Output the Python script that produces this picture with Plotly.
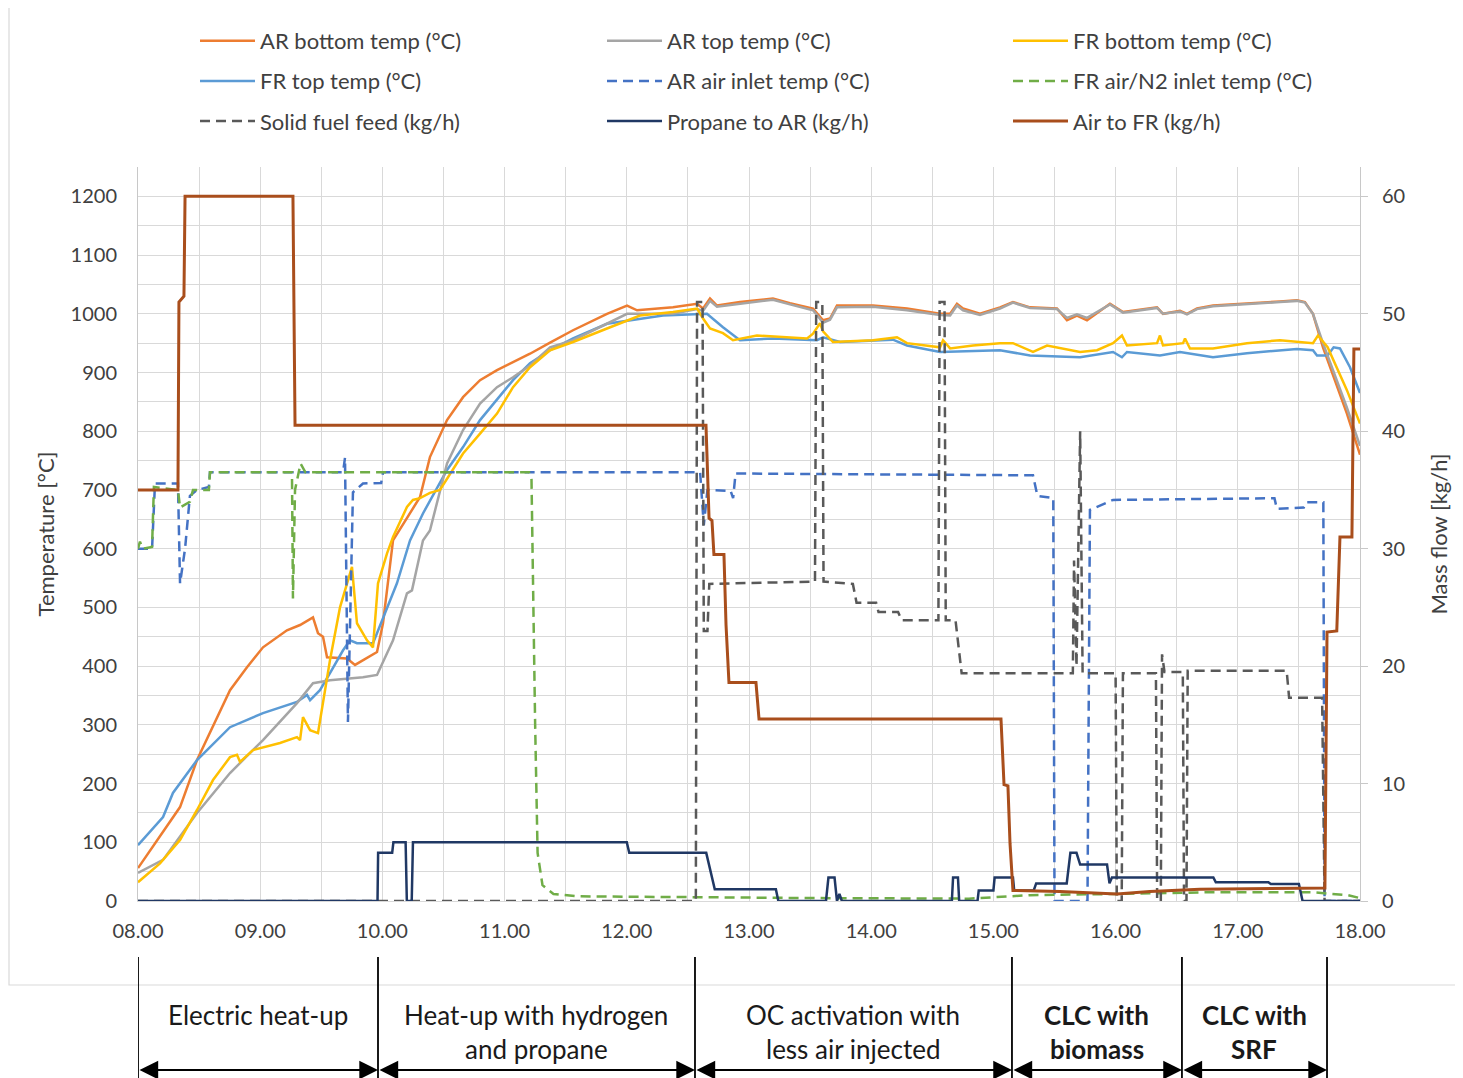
import plotly.graph_objects as go

# ------------------------- data -------------------------
hour_ticks = [8, 9, 10, 11, 12, 13, 14, 15, 16, 17, 18]
hour_labels = ["08.00", "09.00", "10.00", "11.00", "12.00", "13.00",
               "14.00", "15.00", "16.00", "17.00", "18.00"]
temp_ticks = [0, 100, 200, 300, 400, 500, 600, 700, 800, 900, 1000, 1100, 1200]
flow_ticks = [0, 10, 20, 30, 40, 50, 60]

# AR bottom temp (°C)
ar_bottom_t = [8.000, 8.344, 8.483, 8.646, 8.753, 8.892, 9.023, 9.219, 9.326, 9.432, 9.473, 9.514,
               9.547, 9.710, 9.776, 9.956, 10.005, 10.087, 10.308, 10.389, 10.529, 10.660, 10.799,
               10.938, 11.069, 11.208, 11.372, 11.560, 11.838, 12.002, 12.084, 12.378, 12.575,
               12.624, 12.681, 12.738, 12.926, 13.196, 13.335, 13.524, 13.606, 13.663, 13.720,
               14.015, 14.293, 14.563, 14.646, 14.702, 14.751, 14.890, 15.054, 15.160, 15.300,
               15.520, 15.602, 15.684, 15.766, 15.954, 16.061, 16.339, 16.388, 16.527, 16.584,
               16.666, 16.797, 17.075, 17.345, 17.484, 17.549, 17.615, 17.697, 17.893, 18.000]
ar_bottom_v = [56, 160, 240, 313, 359, 398, 432, 461, 470, 483, 456, 450,
               415, 413, 402, 424, 473, 614, 688, 756, 819, 858, 887,
               904, 918, 932, 951, 972, 1000, 1014, 1006, 1011, 1017,
               1009, 1026, 1014, 1020, 1026, 1018, 1009, 989, 992, 1014,
               1014, 1009, 1000, 1000, 1017, 1009, 1000, 1011, 1020, 1011,
               1009, 989, 997, 989, 1017, 1003, 1011, 1000, 1005, 1000,
               1009, 1014, 1017, 1021, 1023, 1020, 1000, 943, 830, 760]

# AR top temp (°C)
ar_top_t = [8.000, 8.205, 8.483, 8.753, 9.023, 9.301, 9.432, 9.571, 9.841, 9.956, 10.087, 10.201,
            10.242, 10.332, 10.389, 10.529, 10.660, 10.799, 10.938, 11.069, 11.208, 11.372, 11.560,
            11.838, 12.002, 12.378, 12.575, 12.624, 12.681, 12.738, 12.926, 13.196, 13.335, 13.524,
            13.606, 13.663, 13.720, 14.015, 14.293, 14.563, 14.646, 14.702, 14.751, 14.890, 15.054,
            15.160, 15.300, 15.520, 15.602, 15.684, 15.766, 15.954, 16.061, 16.339, 16.388, 16.527,
            16.584, 16.666, 16.797, 17.075, 17.345, 17.484, 17.549, 17.615, 17.697, 17.893, 18.000]
ar_top_v = [48, 70, 150, 218, 274, 337, 371, 376, 381, 385, 444, 524,
            529, 614, 631, 745, 802, 847, 875, 892, 912, 943, 955,
            983, 1000, 1000, 1008, 1005, 1022, 1012, 1017, 1024, 1016, 1006,
            985, 990, 1011, 1012, 1006, 998, 997, 1014, 1006, 998, 1009,
            1019, 1010, 1008, 993, 999, 993, 1016, 1002, 1010, 1000, 1004,
            999, 1008, 1013, 1016, 1020, 1022, 1019, 1000, 950, 840, 775]

# FR bottom temp (°C)
fr_bottom_t = [8.000, 8.180, 8.344, 8.483, 8.614, 8.753, 8.810, 8.835, 8.941, 9.162, 9.301, 9.326,
               9.350, 9.408, 9.473, 9.514, 9.571, 9.653, 9.751, 9.792, 9.874, 9.923, 9.964, 10.038,
               10.087, 10.201, 10.250, 10.308, 10.389, 10.471, 10.660, 10.799, 10.938, 11.069,
               11.208, 11.372, 11.560, 11.838, 12.108, 12.378, 12.575, 12.624, 12.681, 12.787,
               12.869, 13.065, 13.475, 13.524, 13.581, 13.606, 13.687, 14.015, 14.211, 14.293,
               14.563, 14.588, 14.646, 14.833, 15.054, 15.160, 15.324, 15.439, 15.709, 15.848,
               15.979, 16.052, 16.093, 16.339, 16.363, 16.388, 16.552, 16.568, 16.609, 16.797,
               17.075, 17.345, 17.533, 17.615, 17.656, 17.735, 17.893, 18.000]
fr_bottom_v = [32, 64, 104, 155, 206, 245, 249, 237, 257, 269, 279, 274,
               313, 291, 286, 337, 410, 500, 569, 473, 444, 432, 541, 592,
               620, 671, 683, 686, 695, 700, 762, 796, 830, 875,
               909, 938, 952, 975, 997, 1003, 1009, 992, 975, 967,
               955, 963, 958, 966, 984, 970, 952, 955, 960, 950,
               943, 955, 941, 946, 950, 950, 935, 946, 935, 938,
               950, 963, 946, 950, 963, 946, 950, 958, 941, 941,
               950, 955, 952, 950, 963, 943, 870, 813]

# FR top temp (°C)
fr_top_t = [8.000, 8.205, 8.286, 8.483, 8.753, 9.023, 9.301, 9.383, 9.408, 9.489, 9.571, 9.678,
            9.735, 9.792, 9.923, 10.119, 10.226, 10.332, 10.529, 10.660, 10.799, 10.938, 11.069,
            11.208, 11.372, 11.560, 11.838, 12.296, 12.575, 12.656, 12.787, 12.926, 13.196,
            13.556, 13.606, 13.745, 14.178, 14.293, 14.563, 15.054, 15.300, 15.709, 15.979,
            16.052, 16.093, 16.363, 16.527, 16.797, 17.075, 17.484, 17.615, 17.648, 17.735,
            17.784, 17.836, 17.918, 18.000]
fr_top_v = [95, 143, 184, 240, 296, 320, 339, 351, 342, 359, 388, 427,
            444, 439, 439, 541, 614, 660, 734, 773, 819, 853, 887,
            916, 938, 958, 983, 997, 1000, 1000, 977, 955, 958,
            955, 960, 952, 956, 946, 935, 938, 929, 926, 935,
            926, 935, 929, 935, 926, 933, 940, 938, 929, 929,
            943, 941, 909, 865]

# AR air inlet temp (°C)
ar_air_t = [8.000, 8.115, 8.139, 8.327, 8.344, 8.385, 8.425, 8.483, 8.580, 8.589, 9.678, 9.694,
            9.718, 9.759, 9.841, 9.990, 10.005, 12.600, 12.630, 12.660, 12.850, 12.870, 12.890,
            15.324, 15.360, 15.490, 15.500, 15.770, 15.790, 15.979, 17.300, 17.320, 17.540,
            17.560, 17.700, 17.710, 18.000]
ar_air_v = [600, 600, 711, 711, 541, 600, 690, 700, 705, 730, 730, 755,
            305, 696, 711, 712, 730, 730, 640, 700, 698, 686, 728,
            725, 690, 686, 0, 0, 666, 683, 686, 668, 670,
            679, 679, 0, 0]

# FR air/N2 inlet temp (°C)
fr_air_t = [8.000, 8.016, 8.040, 8.115, 8.130, 8.327, 8.344, 8.425, 8.450, 8.580, 8.589, 9.260,
            9.268, 9.285, 9.330, 9.370, 11.200, 11.220, 11.250, 11.270, 11.310, 11.400, 11.600,
            12.500, 13.500, 14.800, 15.000, 15.300, 16.000, 16.800, 17.600, 17.900, 18.000]
fr_air_v = [600, 612, 600, 603, 705, 700, 670, 680, 700, 700, 730, 730,
            515, 700, 745, 730, 730, 720, 300, 82, 27, 12, 8,
            6, 5, 4, 6, 10, 12, 15, 15, 10, 5]

# Solid fuel feed (kg/h)
fuel_t = [8.000, 12.565, 12.575, 12.620, 12.630, 12.660, 12.675, 13.400, 13.540, 13.550, 13.600,
          13.610, 13.850, 13.880, 14.040, 14.060, 14.220, 14.250, 14.550, 14.560, 14.600, 14.610,
          14.690, 14.740, 15.650, 15.660, 15.680, 15.710, 15.730, 16.000, 16.010, 16.050, 16.060,
          16.330, 16.340, 16.370, 16.380, 16.400, 16.550, 16.560, 16.580, 16.590, 17.400, 17.420,
          17.690, 17.710, 18.000]
fuel_v = [0, 0, 51, 51, 23, 23, 27.0, 27.2, 27.2, 51, 51,
          27.2, 27.0, 25.4, 25.4, 24.6, 24.6, 23.9, 23.9, 51, 51, 23.9,
          23.9, 19.4, 19.4, 29, 20, 40, 19.4, 19.4, 0, 0, 19.4,
          19.4, 0, 0, 21, 19.5, 19.5, 0, 0, 19.6, 19.6, 17.3,
          17.3, 0, 0]

# Propane to AR (kg/h)
propane_t = [8.000, 9.960, 9.965, 10.080, 10.090, 10.190, 10.200, 10.240, 10.250, 12.000, 12.020,
             12.650, 12.720, 13.220, 13.240, 13.630, 13.650, 13.700, 13.720, 13.740, 13.760, 14.660,
             14.670, 14.710, 14.720, 14.870, 14.880, 15.000, 15.010, 15.160, 15.170, 15.330, 15.350,
             15.600, 15.630, 15.680, 15.710, 15.930, 15.950, 15.970, 16.800, 16.820, 17.250, 17.270,
             17.500, 17.530, 18.000]
propane_v = [0, 0, 4.1, 4.1, 5.0, 5.0, 0, 0, 5.0, 5.0, 4.1,
             4.1, 1.0, 1.0, 0, 0, 2.0, 2.0, 0, 0.6, 0, 0,
             2.0, 2.0, 0, 0, 0.9, 0.9, 2.0, 2.0, 0.9, 0.9, 1.5,
             1.5, 4.1, 4.1, 3.1, 3.1, 1.5, 2.0, 2.0, 1.6, 1.6, 1.45,
             1.45, 0, 0]

# Air to FR (kg/h)
air_fr_t = [8.000, 8.327, 8.335, 8.376, 8.385, 9.268, 9.285, 12.648, 12.673, 12.697, 12.713, 12.795,
            12.812, 12.836, 13.057, 13.082, 15.062, 15.087, 15.119, 15.136, 15.160, 15.545, 16.011,
            16.280, 16.690, 17.713, 17.730, 17.810, 17.836, 17.934, 17.950, 18.000]
air_fr_v = [35, 35, 51, 51.5, 60, 60, 40.5, 40.5, 32.6, 32.4, 29.5, 29.5,
            23.5, 18.6, 18.6, 15.5, 15.5, 9.9, 9.8, 4.9, 0.9, 0.8, 0.6,
            0.8, 1.0, 1.1, 22.9, 23, 31, 31, 47, 47]

# Test phases
phase_bounds = [8.0, 9.964, 12.558, 15.152, 16.543, 17.730]
phase_line1 = ["Electric heat-up", "Heat-up with hydrogen", "OC activation with", "CLC with", "CLC with"]
phase_line2 = ["", "and propane", "less air injected", "biomass", "SRF"]
phase_bold = [False, False, False, True, True]

# ------------------------- figure -------------------------
FONT = "Lato, 'Open Sans', sans-serif"
TXT = "#404040"
GRID = "#D9D9D9"
DASH = "10px,6px"

fig = go.Figure()

def add(t, v, name, color, width, dash, axis, legend, group):
    fig.add_trace(go.Scatter(
        x=t, y=v, name=name, mode="lines", yaxis=axis,
        line=dict(color=color, width=width, dash=dash),
        legend=legend, legendgroup=group, hoverinfo="skip"))

add(ar_bottom_t, ar_bottom_v, "AR bottom temp (°C)", "#ED7D31", 2.5, "solid", "y", "legend", "g1")
add(fr_top_t, fr_top_v, "FR top temp (°C)", "#5B9BD5", 2.5, "solid", "y", "legend", "g2")
add(ar_top_t, ar_top_v, "AR top temp (°C)", "#A5A5A5", 2.5, "solid", "y", "legend2", "g4")
add(fr_bottom_t, fr_bottom_v, "FR bottom temp (°C)", "#FFC000", 2.5, "solid", "y", "legend3", "g7")
add(ar_air_t, ar_air_v, "AR air inlet temp (°C)", "#4472C4", 2.5, DASH, "y", "legend2", "g5")
add(fr_air_t, fr_air_v, "FR air/N2 inlet temp (°C)", "#70AD47", 2.5, DASH, "y", "legend3", "g8")
add(fuel_t, fuel_v, "Solid fuel feed (kg/h)", "#595959", 2.5, DASH, "y2", "legend", "g3")
add(propane_t, propane_v, "Propane to AR (kg/h)", "#203864", 2.5, "solid", "y2", "legend2", "g6")
add(air_fr_t, air_fr_v, "Air to FR (kg/h)", "#A94E1C", 3, "solid", "y2", "legend3", "g9")

# page offset of the figure (browser body margin) and plot-area geometry in window pixels
OFF = 8
PL, PR, PT, PB = 138, 1360, 167, 901
PW, PH = float(PR - PL), float(PB - PT)

def px(pix):
    return (pix - PL) / PW

def py(pix):
    return (PB - pix) / PH

def leg(x):
    return dict(x=x, y=py(20), xanchor="left", yanchor="top", orientation="v",
                traceorder="grouped", tracegroupgap=8.5, itemwidth=55,
                font=dict(family=FONT, size=22, color=TXT), bgcolor="rgba(0,0,0,0)")

W, H = 1463 - OFF, 1078 - OFF
fig.update_layout(
    width=W, height=H,
    margin=dict(l=PL - OFF, r=(OFF + W) - PR, t=PT - OFF, b=(OFF + H) - PB, autoexpand=False),
    paper_bgcolor="white", plot_bgcolor="white",
    font=dict(family=FONT, color=TXT, size=20),
    showlegend=True,
    legend=leg(px(195)),
    legend2=leg(px(602)),
    legend3=leg(px(1008)),
    xaxis=dict(range=[8, 18], tickmode="array", tickvals=hour_ticks, ticktext=hour_labels,
               showgrid=True, gridcolor=GRID, gridwidth=1,
               minor=dict(tick0=8, dtick=0.5, showgrid=True, gridcolor=GRID, gridwidth=1),
               showline=True, linecolor=GRID, zeroline=False, ticks="",
               ticklabelstandoff=12, tickfont=dict(size=20, color=TXT)),
    yaxis=dict(range=[0, 1250], tickmode="array", tickvals=temp_ticks,
               showgrid=True, gridcolor=GRID, gridwidth=1,
               minor=dict(tick0=0, dtick=50, showgrid=True, gridcolor=GRID, gridwidth=1),
               showline=True, linecolor="#C8C8C8", zeroline=False, ticks="",
               ticklabelstandoff=16, tickfont=dict(size=20, color=TXT),
               title=dict(text="Temperature [°C]", standoff=9, font=dict(size=22, color=TXT))),
    yaxis2=dict(range=[0, 62.5], tickmode="array", tickvals=flow_ticks, overlaying="y",
                side="right", showgrid=False, zeroline=False, showline=True, linecolor="#C8C8C8",
                ticks="outside", ticklen=7, tickcolor="#C8C8C8", ticklabelstandoff=10,
                tickfont=dict(size=20, color=TXT),
                title=dict(text="Mass flow [kg/h]", standoff=27, font=dict(size=22, color=TXT))),
)

shapes = []
# chart-area border
shapes.append(dict(type="rect", xref="paper", yref="paper",
                   x0=px(9), x1=px(1460), y0=py(985), y1=py(6),
                   line=dict(color="#D9D9D9", width=1.2), fillcolor="rgba(0,0,0,0)", layer="below"))
# phase boundary lines
for b in phase_bounds:
    shapes.append(dict(type="line", xref="x", yref="paper", x0=b, x1=b, y0=py(957), y1=py(1080),
                       line=dict(color="black", width=1.8)))
fig.update_layout(shapes=shapes)

anns = []
for i in range(len(phase_line1)):
    mid = (phase_bounds[i] + phase_bounds[i + 1]) / 2
    w = "bold" if phase_bold[i] else "normal"
    anns.append(dict(x=mid, xref="x", y=py(1015), yref="paper", text=phase_line1[i],
                     showarrow=False, xanchor="center", yanchor="middle",
                     font=dict(family=FONT, size=26, color="#1a1a1a", weight=w)))
    if phase_line2[i]:
        anns.append(dict(x=mid, xref="x", y=py(1049), yref="paper", text=phase_line2[i],
                         showarrow=False, xanchor="center", yanchor="middle",
                         font=dict(family=FONT, size=26, color="#1a1a1a", weight=w)))
    anns.append(dict(x=phase_bounds[i + 1], xref="x", y=py(1070), yref="paper",
                     ax=phase_bounds[i], axref="x", ay=0, ayref="pixel", text="",
                     showarrow=True, arrowhead=2, arrowside="end+start", arrowsize=1.7,
                     arrowwidth=2.2, arrowcolor="black", standoff=0, startstandoff=0))
fig.update_layout(annotations=anns)

fig.write_html("out.html")
